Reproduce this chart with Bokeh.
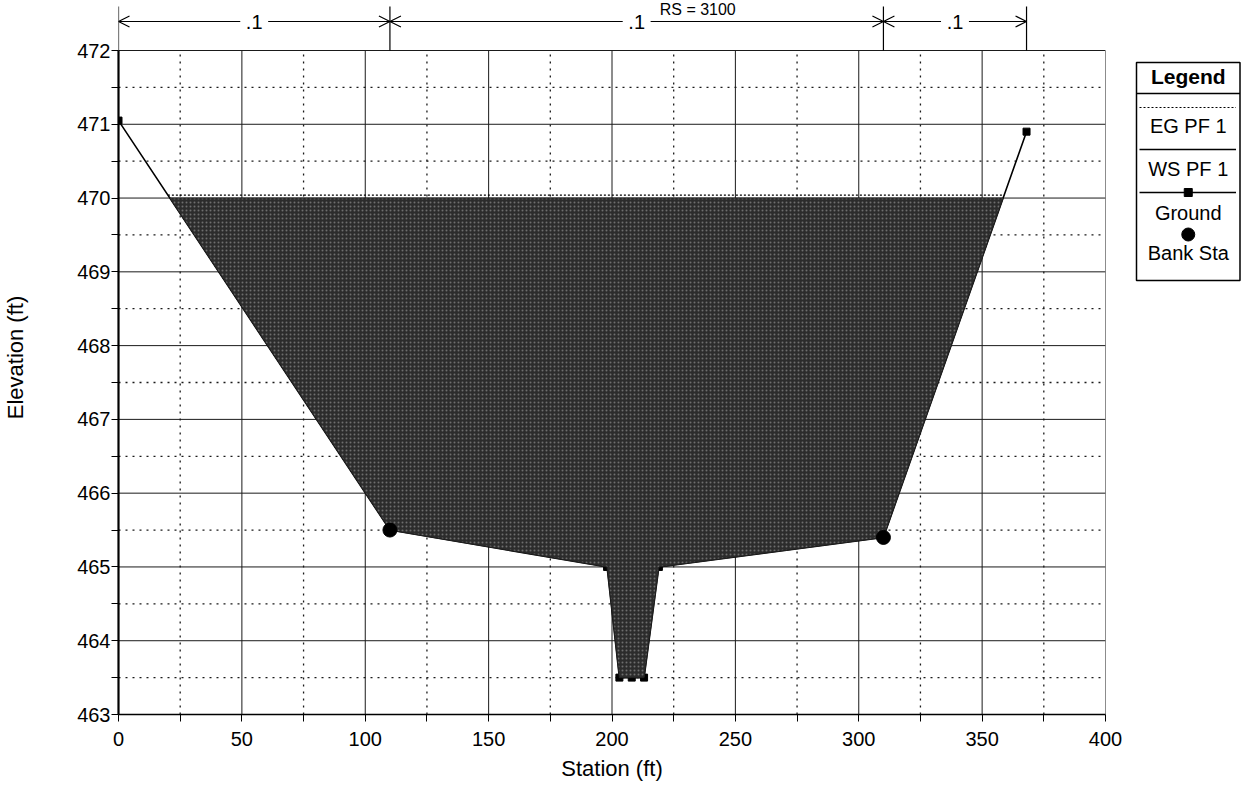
import numpy as np
from bokeh.plotting import figure
from bokeh.layouts import row
from bokeh.models import Range1d, FixedTicker, Arrow, OpenHead
from bokeh.embed import file_html
from bokeh.resources import INLINE
from bokeh.core.properties import value

# ---------------- data ----------------
TITLE = "RS = 3100"
X_LABEL = "Station (ft)"
Y_LABEL = "Elevation (ft)"

ground_station = [0, 110, 198, 203, 208, 213, 219, 310, 368]
ground_elev = [471.05, 465.5, 465.0, 463.5, 463.5, 463.5, 465.0, 465.4, 470.9]
bank_station = [110, 310]
ws_pf1 = 470.0
eg_pf1 = 470.04
n_break_station = [0, 110, 310, 368]
n_value_label = [".1", ".1", ".1"]

x_major = [0, 50, 100, 150, 200, 250, 300, 350, 400]
x_minor = [25, 75, 125, 175, 225, 275, 325, 375]
y_major = [463, 464, 465, 466, 467, 468, 469, 470, 471, 472]
y_minor = [463.5, 464.5, 465.5, 466.5, 467.5, 468.5, 469.5, 470.5, 471.5]

legend_title = "Legend"
legend_items = ["EG PF 1", "WS PF 1", "Ground", "Bank Sta"]

# ---------------- geometry ----------------
FONT = "Liberation Sans"
H = 788
MAIN_W, LEG_W = 1125, 116
LEFT, RIGHT = 115, 20
TOP_PX = 50                     # pixels above the 472 line
BOTTOM = 74
FRAME_W = MAIN_W - LEFT - RIGHT
FRAME_H = H - BOTTOM
YPX = (FRAME_H - TOP_PX) / (y_major[-1] - y_major[0])
XPX = FRAME_W / (x_major[-1] - x_major[0])
y_end = y_major[-1] + TOP_PX / YPX


def clip_below(xs, ys, level):
    pts = []
    for i in range(len(xs) - 1):
        x0, y0, x1, y1 = xs[i], ys[i], xs[i + 1], ys[i + 1]
        if y0 <= level:
            pts.append((x0, y0))
        if (y0 - level) * (y1 - level) < 0:
            t = (level - y0) / (y1 - y0)
            pts.append((x0 + t * (x1 - x0), level))
    if ys[-1] <= level:
        pts.append((xs[-1], ys[-1]))
    return pts


p = figure(width=MAIN_W, height=H, output_backend="svg", toolbar_location=None,
           x_range=Range1d(x_major[0], x_major[-1]), y_range=Range1d(y_major[0], y_end),
           min_border_left=LEFT, min_border_right=RIGHT, min_border_top=0,
           min_border_bottom=BOTTOM)
p.outline_line_color = None
p.xgrid.visible = False
p.ygrid.visible = False

# ---------- grid ----------
GC = "#1a1a1a"
p.segment(x0=x_major, y0=[y_major[0]] * len(x_major), x1=x_major, y1=[y_major[-1]] * len(x_major),
          line_color=GC, line_width=1)
p.segment(x0=x_minor, y0=[y_major[0]] * len(x_minor), x1=x_minor, y1=[y_major[-1]] * len(x_minor),
          line_color=GC, line_width=1.3, line_dash="2 5")
p.segment(x0=[x_major[0]] * len(y_major), y0=y_major, x1=[x_major[-1]] * len(y_major), y1=y_major,
          line_color=GC, line_width=1)
p.segment(x0=[x_major[0]] * len(y_minor), y0=y_minor, x1=[x_major[-1]] * len(y_minor), y1=y_minor,
          line_color=GC, line_width=1.3, line_dash="2 5")

# ---------- ground ----------
p.line(ground_station, ground_elev, line_color="black", line_width=1.6)
p.scatter(ground_station, ground_elev, marker="square", size=7, color="black")

# ---------- water ----------
ws_poly = clip_below(ground_station, ground_elev, ws_pf1)
p.patch([q[0] for q in ws_poly], [q[1] for q in ws_poly],
        fill_color="#2c2c2c", line_color="#222222", line_width=1,
        hatch_pattern=".", hatch_color="#6e6e6e", hatch_scale=4, hatch_weight=0.8)
eg_poly = clip_below(ground_station, ground_elev, eg_pf1)
p.line([eg_poly[0][0], eg_poly[-1][0]], [eg_pf1, eg_pf1],
       line_color="black", line_width=1.2, line_dash="2 2")

bank_elev = list(np.interp(bank_station, ground_station, ground_elev))
p.scatter(bank_station, bank_elev, marker="circle", size=14, color="black")

# ---------- Manning's n annotation ----------
n_y = y_major[-1] + 29 / YPX
p.segment(x0=n_break_station, y0=[y_major[-1]] * len(n_break_station),
          x1=n_break_station, y1=[y_major[-1] + 44 / YPX] * len(n_break_station),
          line_color="black", line_width=1.2)
gap = 14 / XPX
for i, lab in enumerate(n_value_label):
    a, b = n_break_station[i], n_break_station[i + 1]
    m = (a + b) / 2
    for s, e in ((m - gap, a), (m + gap, b)):
        p.add_layout(Arrow(end=OpenHead(size=11, line_width=1.2, line_color="black"),
                           x_start=s, y_start=n_y, x_end=e, y_end=n_y,
                           line_color="black", line_width=1.2))
    p.text(x=[m], y=[n_y], text=[lab], text_align="center", text_baseline="middle",
           text_font=value(FONT), text_font_size="20px", text_color="black")

# ---------- title ----------
p.text(x=[(700 - 4 - LEFT) / XPX], y=[y_end], text=[TITLE], text_align="center",
       text_baseline="top", text_font=value(FONT), text_font_size="16px",
       text_color="black")

# ---------- axes ----------
p.xaxis.ticker = FixedTicker(ticks=x_major, minor_ticks=x_minor)
p.yaxis.ticker = FixedTicker(ticks=y_major, minor_ticks=y_minor)
p.xaxis.bounds = (x_major[0], x_major[-1])
p.yaxis.bounds = (y_major[0], y_major[-1])
for ax in (p.xaxis[0], p.yaxis[0]):
    ax.major_tick_in = 0
    ax.minor_tick_in = 0
    ax.major_tick_out = 7
    ax.minor_tick_out = 7
    ax.major_tick_line_color = "black"
    ax.minor_tick_line_color = "black"
    ax.axis_line_color = "black"
    ax.major_label_text_font = FONT
    ax.major_label_text_font_size = "20px"
    ax.major_label_text_color = "black"
    ax.axis_label_text_font = FONT
    ax.axis_label_text_font_size = "22px"
    ax.axis_label_text_font_style = "normal"
    ax.axis_label_text_color = "black"
p.yaxis.axis_line_width = 2.2
p.xaxis.axis_line_width = 1.5
p.xaxis.axis_label = X_LABEL
p.yaxis.axis_label = Y_LABEL
p.xaxis.major_label_standoff = 10
p.yaxis.major_label_standoff = 1
p.xaxis.axis_label_standoff = 7
p.yaxis.axis_label_standoff = 46
p.yaxis.major_label_orientation = "horizontal"

# ---------------- legend (its own panel, pixel coordinates) ----------------
# the row aligns this panel's frame with the main frame (height FRAME_H)
lg = figure(width=LEG_W, height=H, output_backend="svg", toolbar_location=None,
            x_range=Range1d(0, LEG_W), y_range=Range1d(FRAME_H, 0),
            min_border_left=0, min_border_right=0, min_border_top=0,
            min_border_bottom=BOTTOM)
lg.axis.visible = False
lg.grid.visible = False
lg.outline_line_color = None
L, R, T, B = 11, 114.5, 62, 280
lg.quad(left=[L], right=[R], top=[T], bottom=[B],
        fill_color="white", line_color="black", line_width=1.5)
lg.segment(x0=[L], y0=[93], x1=[R], y1=[93], line_color="black", line_width=1.5)
cx = (L + R) / 2
lg.text(x=[cx], y=[76], text=[legend_title], text_align="center",
        text_baseline="middle", text_font=value(FONT), text_font_size="21px",
        text_font_style="bold", text_color="black")
lx0, lx1 = L + 3, R - 4
lg.line([lx0, lx1], [107, 107], line_color="black", line_width=1.2, line_dash="2 2")
lg.line([lx0, lx1], [149, 149], line_color="black", line_width=1.5)
lg.line([lx0, lx1], [192, 192], line_color="black", line_width=1.5)
lg.scatter([cx], [192], marker="square", size=8, color="black")
lg.scatter([cx], [234], marker="circle", size=13, color="black")
for lab, cy in zip(legend_items, [125, 168, 212, 252]):
    lg.text(x=[cx], y=[cy], text=[lab], text_align="center",
            text_baseline="middle", text_font=value(FONT), text_font_size="20px",
            text_color="black")

layout = row(p, lg, spacing=0)
open("out.html", "w").write(file_html(layout, INLINE))
